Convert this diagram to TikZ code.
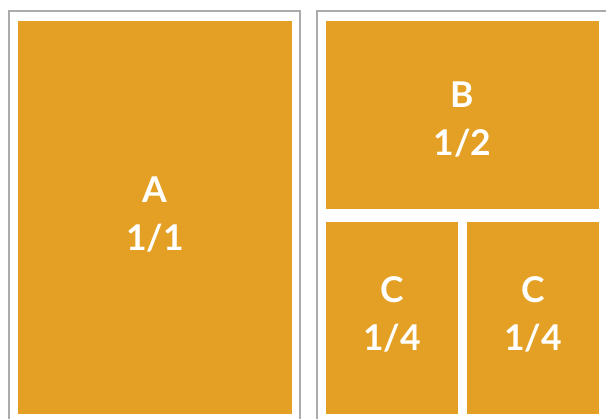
\documentclass[tikz,border=0pt]{standalone}
\usepackage{fontspec}
\setmainfont{Lato}
\usepackage{tikz}
\definecolor{tileorange}{HTML}{E4A024}
\definecolor{framegrey}{HTML}{ABABAB}

\begin{document}
\begin{tikzpicture}[x=1pt,y=-1pt]
\tikzset{tile/.style={fill=tileorange,inner sep=0pt},
  tiletext/.style={text=white,inner sep=0pt,align=center,
  font=\fontsize{35.5}{48}\selectfont\bfseries}}
\useasboundingbox (0,0) rectangle (606,419);

% marcos
\draw[framegrey,line width=2pt] (9,11) rectangle (300,440);
\draw[framegrey,line width=2pt] (317,11) rectangle (640,440);

% bloques
\node (A) at (155,217.5) [tile,minimum width=274pt,minimum height=393pt] {};
\node (B) at (462.5,115) [tile,minimum width=273pt,minimum height=188pt] {};
\node (C1) at (392,318) [tile,minimum width=132pt,minimum height=192pt] {};
\node (C2) at (533,318) [tile,minimum width=132pt,minimum height=192pt] {};

% textos
\node (A text) at (155,215) [tiletext] {A\\1/1};
\node (B text) at (462.5,120) [tiletext] {B\\1/2};
\node (C1 text) at (392,314) [tiletext] {C\\1/4};
\node (C2 text) at (533,314) [tiletext] {C\\1/4};

\end{tikzpicture}
\end{document}
